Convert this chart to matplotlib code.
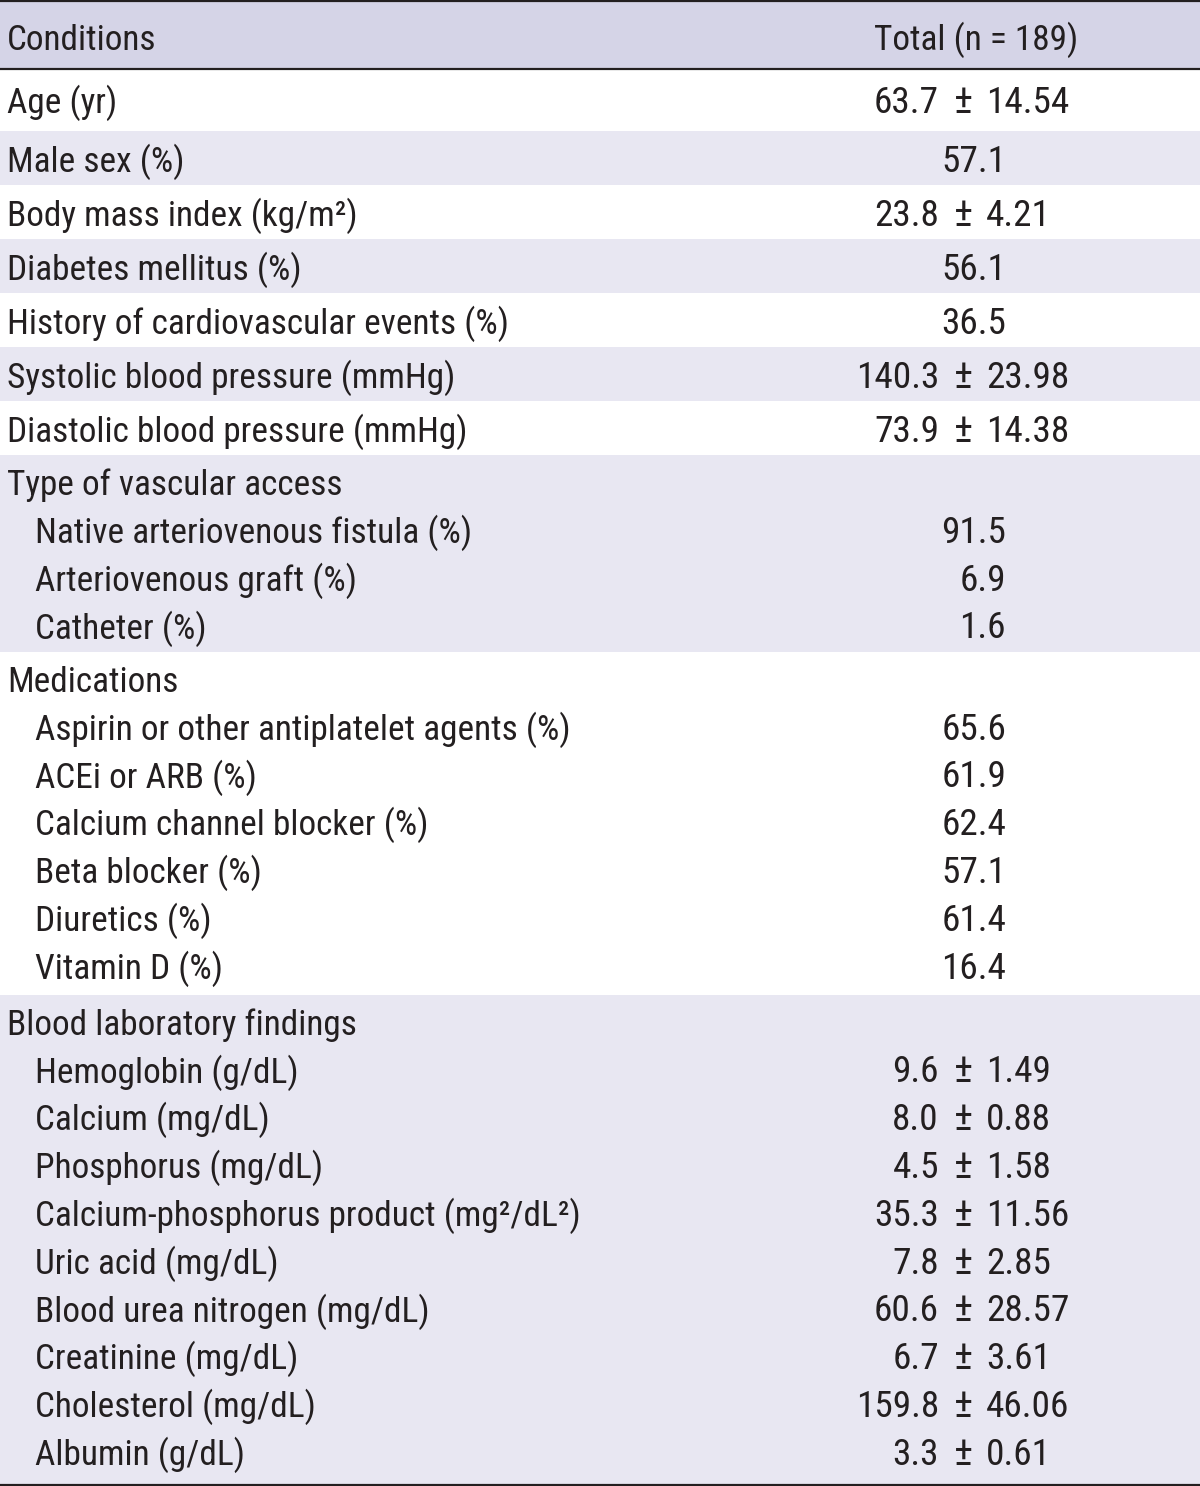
import matplotlib
matplotlib.use("Agg")
import matplotlib.pyplot as plt
from matplotlib.patches import Rectangle
from matplotlib import font_manager
from matplotlib.font_manager import FontProperties

# ---------------- data ----------------
header_label = "Conditions"
header_value = "Total (n = 189)"

single_labels = ["Age (yr)", "Male sex (%)", "Body mass index (kg/m²)",
                 "Diabetes mellitus (%)", "History of cardiovascular events (%)",
                 "Systolic blood pressure (mmHg)", "Diastolic blood pressure (mmHg)"]
single_values = ["63.7 ± 14.54", "57.1", "23.8 ± 4.21", "56.1", "36.5",
                 "140.3 ± 23.98", "73.9 ± 14.38"]

access_title = "Type of vascular access"
access_labels = ["Native arteriovenous fistula (%)", "Arteriovenous graft (%)", "Catheter (%)"]
access_values = ["91.5", "6.9", "1.6"]

med_title = "Medications"
med_labels = ["Aspirin or other antiplatelet agents (%)", "ACEi or ARB (%)",
              "Calcium channel blocker (%)", "Beta blocker (%)", "Diuretics (%)",
              "Vitamin D (%)"]
med_values = ["65.6", "61.9", "62.4", "57.1", "61.4", "16.4"]

lab_title = "Blood laboratory findings"
lab_labels = ["Hemoglobin (g/dL)", "Calcium (mg/dL)", "Phosphorus (mg/dL)",
              "Calcium-phosphorus product (mg²/dL²)", "Uric acid (mg/dL)",
              "Blood urea nitrogen (mg/dL)", "Creatinine (mg/dL)",
              "Cholesterol (mg/dL)", "Albumin (g/dL)"]
lab_values = ["9.6 ± 1.49", "8.0 ± 0.88", "4.5 ± 1.58", "35.3 ± 11.56",
              "7.8 ± 2.85", "60.6 ± 28.57", "6.7 ± 3.61", "159.8 ± 46.06",
              "3.3 ± 0.61"]

# ---------------- style ----------------
W, H = 1200, 1486
DPI = 100
avail = {f.name for f in font_manager.fontManager.ttflist}
prefs = ["Roboto Condensed", "Liberation Sans Narrow", "Archivo Narrow", "PT Sans Narrow",
         "Fira Sans Condensed", "IBM Plex Sans Condensed", "Sofia Sans Condensed",
         "Barlow Semi Condensed", "Encode Sans Condensed", "Asap Condensed",
         "Liberation Sans"]
main_font = next((p for p in prefs if p in avail), "DejaVu Sans")
fam = [main_font, "DejaVu Sans"]
TXT = "#231f20"
HEAD_BG = "#d5d4e7"
STRIPE = "#e8e7f2"

fig = plt.figure(figsize=(W / DPI, H / DPI), dpi=DPI)
ax = fig.add_axes([0, 0, 1, 1])
ax.set_xlim(0, W)
ax.set_ylim(H, 0)
ax.axis("off")

# calibrate font size so that a known label matches the reference width (501 px)
renderer = fig.canvas.get_renderer()
base_pt = 38 * 72 / DPI
wpx, _, _ = renderer.get_text_width_height_descent(
    single_labels[4], FontProperties(family=main_font, size=base_pt), ismath=False)
FS = base_pt * 501.0 / wpx
FS = max(min(FS, base_pt * 1.15), base_pt * 0.85)
FS_VAL = FS * 1.06

X_MAIN = 7
X_SUB = 35
X_PM = 963
X_LEFT = 939
X_RIGHT = 986
X_PCT = 1006
X_HEAD = 976


def txt(x, y, s, ha, size=None):
    ax.text(x, y, s, ha=ha, va="baseline", fontsize=size or FS, family=fam, color=TXT)


def put_value(v, y):
    if "±" in v:
        a, b = [s.strip() for s in v.split("±")]
        txt(X_LEFT, y, a, "right", FS_VAL)
        txt(X_PM, y, "±", "center", FS * 1.15)
        txt(X_RIGHT, y, b, "left", FS_VAL)
    else:
        txt(X_PCT, y, v, "right", FS_VAL)


# header
HEADER_H = 69
ax.add_patch(Rectangle((0, 0), W, HEADER_H, color=HEAD_BG, lw=0))
txt(X_MAIN, 50, header_label, "left")
txt(X_HEAD, 50, header_value, "center")

y = HEADER_H + 1
shade = False
for i, (lab, val) in enumerate(zip(single_labels, single_values)):
    h = 61 if i == 0 else 54
    base = 43 if i == 0 else 41
    if shade:
        ax.add_patch(Rectangle((0, y), W, h, color=STRIPE, lw=0))
    txt(X_MAIN, y + base, lab, "left")
    put_value(val, y + base)
    y += h
    shade = not shade

LINE = 47.8
for title, labs, vals in [(access_title, access_labels, access_values),
                          (med_title, med_labels, med_values),
                          (lab_title, lab_labels, lab_values)]:
    n = len(labs) + 1
    h = n * 48.7 + 2
    if shade:
        ax.add_patch(Rectangle((0, y), W, h, color=STRIPE, lw=0))
    yb = y + 40
    txt(X_MAIN, yb, title, "left")
    for lab, val in zip(labs, vals):
        yb += LINE
        txt(X_SUB, yb, lab, "left")
        put_value(val, yb)
    y += h
    shade = not shade

LW = 2.2 * 72 / DPI
ax.plot([0, W], [1.2, 1.2], color=TXT, lw=LW, solid_capstyle="butt")
ax.plot([0, W], [HEADER_H, HEADER_H], color=TXT, lw=LW, solid_capstyle="butt")
ax.plot([0, W], [y + 1, y + 1], color=TXT, lw=LW, solid_capstyle="butt")

fig.savefig("out.png", dpi=DPI)
